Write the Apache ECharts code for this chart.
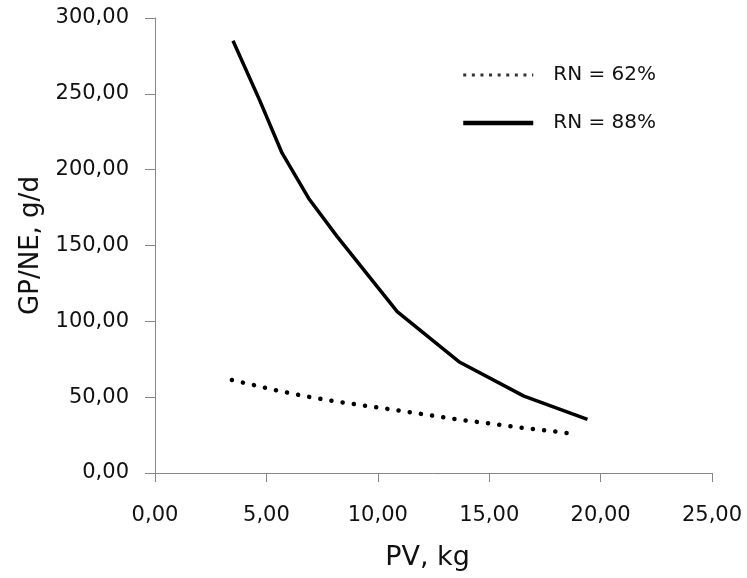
<!DOCTYPE html>
<html>
<head>
<meta charset="utf-8">
<script src="https://cdn.jsdelivr.net/npm/echarts@6/dist/echarts.min.js"></script>
<style>
  html, body { margin: 0; padding: 0; background: #fff; }
  #chart { width: 747px; height: 578px; }
</style>
</head>
<body>
<div id="chart"></div>
<script>
// PV (kg) vs GP/NE (g/d)
const pv62 = [3.45, 5.6, 6.8, 8.1, 10.8, 13.5, 16.4, 18.96];
const gp62 = [61.3, 54, 50.5, 47.2, 41.5, 35.5, 30, 25.6];

const pv88 = [3.5, 4.69, 5.7, 6.9, 8.17, 10.87, 13.64, 16.56, 19.41];
const gp88 = [285, 246, 211, 181, 156, 106.4, 73.4, 50.7, 35.3];

const seriesNames = ['RN = 62%', 'RN = 88%'];
const xTicks = [0, 5, 10, 15, 20, 25];
const yTicks = [0, 50, 100, 150, 200, 250, 300];

const fmt = (v) => v.toFixed(2).replace('.', ',');
const font = 'DejaVu Sans';
const axisGray = '#868686';

const chart = echarts.init(document.getElementById('chart'), null, { renderer: 'canvas' });

const option = {
    animation: false,
    grid: { left: 155, right: 35, top: 18, bottom: 105, outerBoundsMode: 'none' },
    legend: {
        orient: 'vertical',
        left: 461,
        top: 65,
        padding: 0,
        itemWidth: 70,
        itemHeight: 14,
        itemGap: 28,
        // hide the marker that line legends draw in the middle
        itemStyle: { color: 'rgba(0,0,0,0)', borderWidth: 0 },
        textStyle: { fontFamily: font, fontSize: 20, color: '#111', padding: [0, 0, 0, 15] },
        data: [
            { name: seriesNames[0], lineStyle: { type: [3, 5.6], width: 3, cap: 'butt', color: '#333' } },
            { name: seriesNames[1], lineStyle: { width: 4.5, color: '#000' } },
        ],
    },
    xAxis: {
        type: 'value',
        min: xTicks[0],
        max: xTicks[xTicks.length - 1],
        interval: 5,
        name: 'PV, kg',
        nameLocation: 'middle',
        nameGap: 71,
        nameTextStyle: { fontFamily: font, fontSize: 27, color: '#111', padding: [0, 12, 0, 0] },
        axisLine: { lineStyle: { color: axisGray, width: 1 } },
        axisTick: { show: true, length: 9, lineStyle: { color: axisGray } },
        axisLabel: { margin: 32, fontFamily: font, fontSize: 21, color: '#111', formatter: fmt },
        splitLine: { show: false },
    },
    yAxis: {
        type: 'value',
        min: yTicks[0],
        max: yTicks[yTicks.length - 1],
        interval: 50,
        name: 'GP/NE, g/d',
        nameLocation: 'middle',
        nameGap: 110,
        nameTextStyle: { fontFamily: font, fontSize: 26, color: '#111' },
        axisLine: { show: true, lineStyle: { color: axisGray, width: 1 } },
        axisTick: { show: true, length: 10, lineStyle: { color: axisGray } },
        axisLabel: { margin: 26, fontFamily: font, fontSize: 21, color: '#111', formatter: fmt },
        splitLine: { show: false },
    },
    series: [
        {
            name: seriesNames[0],
            type: 'line',
            symbol: 'none',
            data: pv62.map((x, i) => [x, gp62[i]]),
            lineStyle: { color: '#000', width: 4.5, type: [0.1, 11.2], cap: 'round' },
            itemStyle: { color: '#000' },
        },
        {
            name: seriesNames[1],
            type: 'line',
            symbol: 'none',
            data: pv88.map((x, i) => [x, gp88[i]]),
            lineStyle: { color: '#000', width: 3.5 },
            itemStyle: { color: '#000' },
        },
    ],
};

chart.setOption(option);
</script>
</body>
</html>
